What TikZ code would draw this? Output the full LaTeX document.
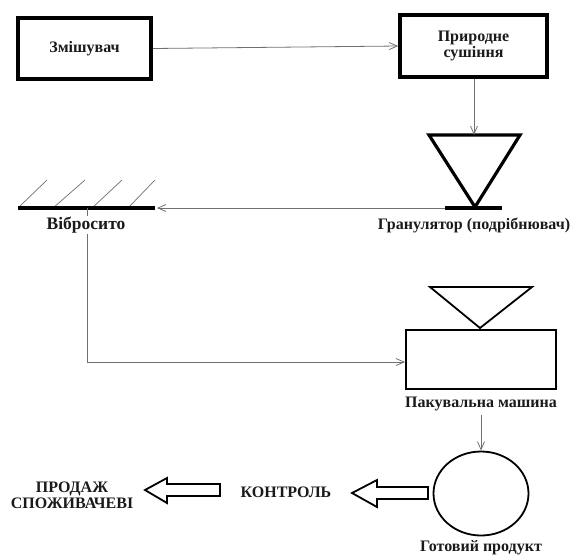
\documentclass[tikz,border=0pt]{standalone}
\usepackage{fontspec}
\setmainfont{Liberation Serif}
\usetikzlibrary{arrows.meta,shapes.geometric}
\definecolor{linegray}{HTML}{707070}
\definecolor{txt}{HTML}{1A1A1A}
\begin{document}
\begin{tikzpicture}[x=1pt,y=-1pt,
  lbl/.style={font=\bfseries\fontsize{16}{16.5}\selectfont,text=txt,inner sep=1pt,align=center},
  thickbox/.style={draw,line width=3.6pt,minimum width=#1,inner sep=0pt},
  flow/.style={draw=linegray,line width=0.8pt,-{Straight Barb[length=8pt,width=7pt,line width=0.8pt]}},
  fatarrow/.style={draw,line width=1.8pt,fill=white,line join=miter},
  heavy/.style={line width=3.2pt}]
\useasboundingbox (0,0) rectangle (572,558);

% Mixer and natural drying
\node[thickbox=133pt,minimum height=61pt,lbl] (mix) at (84.5,48.5) {Змішувач};
\node[thickbox=147pt,minimum height=62pt,lbl] (dry) at (473.5,46) {Природне\\сушіння};

% Granulator
\coordinate (gtl) at (429,135);
\coordinate (gtr) at (520,135);
\coordinate (gap) at (475,207);
\coordinate (gtop) at (474,135);
\draw[heavy,line join=miter] (gtl) -- (gtr) -- (gap) -- cycle;
\coordinate (barL) at (445,208);
\coordinate (barR) at (502,208);
\draw[heavy] (barL) -- (barR);
\node[lbl] (glabel) at (474,225) {Гранулятор (подрібнювач)};

% Vibrating sieve
\coordinate (sL) at (18,208);
\coordinate (sR) at (155,208);
\coordinate (sArr) at (157,208);
\coordinate (sDown) at (87,208);
\foreach \bx/\tx in {18/47,53/85,92/122,128/155}{
  \draw[linegray,line width=0.7pt] (\bx,208) -- (\tx,180);
}
\draw[heavy] (sL) -- (sR);

% flows
\draw[flow] (mix.east) -- (dry.west);
\draw[flow] (dry.south -| gtop) -- (gtop);
\draw[flow] (barL) -- (sArr);

% Packaging machine
\node[draw,line width=2pt,minimum width=150pt,minimum height=59pt,inner sep=0pt] (pack) at (481,359.5) {};
\coordinate (ptl) at (430,287);
\coordinate (ptr) at (532,287);
\coordinate (pap) at (480,328);
\draw[line width=1.8pt,line join=miter] (ptl) -- (ptr) -- (pap) -- cycle;
\coordinate (corner) at (87,362);
\draw[flow] (sDown) -- (corner) -- (corner -| pack.west);
\node[lbl,fill=white,font=\bfseries\fontsize{17.5}{18}\selectfont] (sieve) at (86,225) {Вібросито};
\node[lbl] (plabel) at (481,404) {Пакувальна машина};

% Finished product
\node[draw,ellipse,line width=1.8pt,minimum width=95pt,minimum height=84pt,inner sep=0pt] (prod) at (481,493.5) {};
\draw[flow] (plabel.south -| prod.north) ++(0,3) -- (prod.north);
\node[lbl] (prodlabel) at (481,548) {Готовий продукт};

% Control and sale
\node[lbl] (ctrl) at (286,492) {КОНТРОЛЬ};
\node[lbl] (sale) at (72,495.5) {ПРОДАЖ\\СПОЖИВАЧЕВІ};

% fat arrows
\coordinate (f1) at (352,493);
\draw[fatarrow] (f1) -- (377,480) -- (377,487) -- (428,487) -- (428,499) -- (377,499) -- (377,507) -- cycle;
\coordinate (f2) at (145,490);
\draw[fatarrow] (f2) -- (167,478) -- (167,484) -- (220,484) -- (220,496) -- (167,496) -- (167,503) -- cycle;
\end{tikzpicture}
\end{document}
